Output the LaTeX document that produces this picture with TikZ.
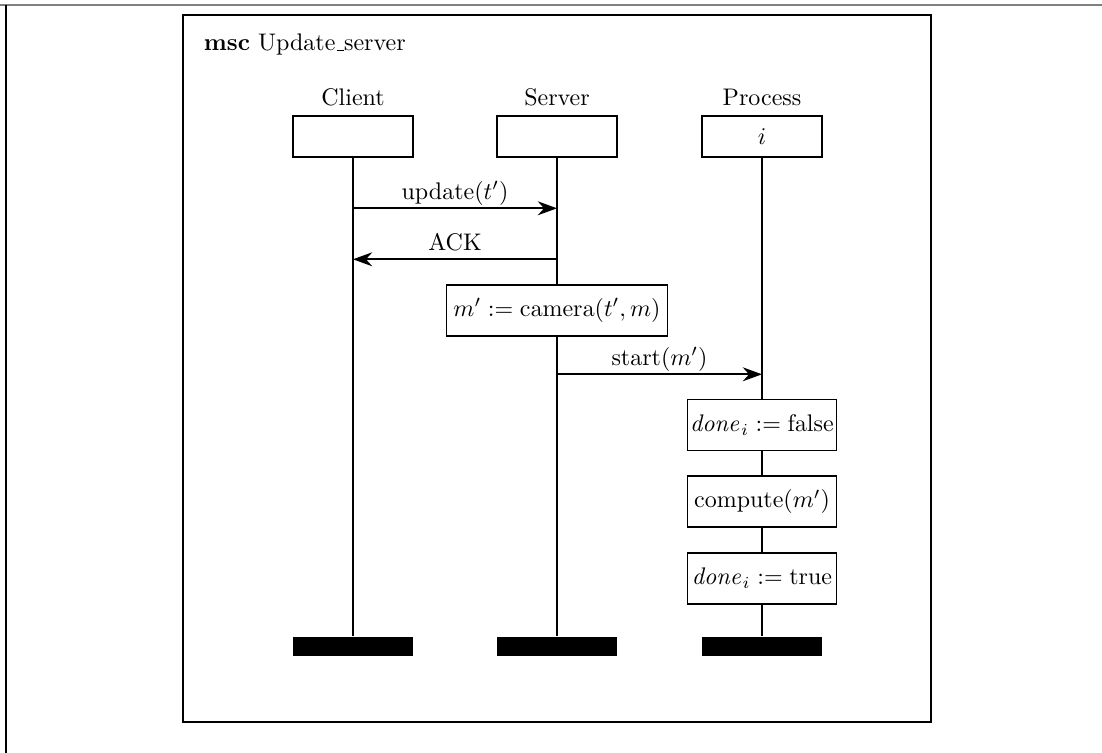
\documentclass[tikz,border=0pt]{standalone}
\usetikzlibrary{arrows.meta}
\begin{document}
\begin{tikzpicture}[x=0.416667pt,y=-0.416667pt, line width=0.8pt,
  headbox/.style={draw, minimum width=50pt, minimum height=17.1pt, inner sep=0pt},
  actbox/.style={draw, fill=white, minimum width=62.1pt, minimum height=21.25pt, inner sep=0pt},
  endbar/.style={fill=black, minimum width=50.4pt, minimum height=7.9pt, inner sep=0pt},
  msg/.style={-{Stealth[length=8pt,width=5.8pt,inset=2.6pt]}},
  lbl/.style={midway, anchor=base, yshift=3.7pt, inner sep=0pt},
  inst/.style={anchor=base, inner sep=0pt}]
\useasboundingbox (0,0) rectangle (1102,753);
% outer edge lines
\draw[line width=0.8pt, black!50] (0,5) -- (1102,5);
\draw[line width=0.45pt] (6,5) -- (6,753);
% frame
\draw (183,15) rectangle (931,722);
\node[anchor=base west, inner sep=0pt] (title) at (203,51) {\textbf{msc} Update\kern.06em\rule{0.3em}{0.5pt}server};
% instance labels
\node[inst] (cl) at (353,106) {Client};
\node[inst] (sl) at (557,106) {Server};
\node[inst] (pl) at (762,106) {Process};
% head boxes
\node[headbox] (ch) at (353,136.7) {};
\node[headbox] (sh) at (557,136.7) {};
\node[headbox] (ph) at (762,136.7) {$i$};
% end bars
\node[endbar] (ce) at (353,646.3) {};
\node[endbar] (se) at (557,646.3) {};
\node[endbar] (pe) at (762,646.3) {};
% actions
\node[actbox, minimum width=92.1pt] (cam) at (557,310.3) {$m' := \mathrm{camera}(t', m)$};
\node[actbox] (a1) at (762,425) {$\mathit{done}_i := \mathrm{false}$};
\node[actbox] (a2) at (762,501.7) {compute$(m')$};
\node[actbox] (a3) at (762,578.3) {$\mathit{done}_i := \mathrm{true}$};
% lifelines
\draw (ch.south) -- (ce.north);
\draw (sh.south) -- (cam.north);
\draw (cam.south) -- (se.north);
\draw (ph.south) -- (a1.north);
\draw (a1.south) -- (a2.north);
\draw (a2.south) -- (a3.north);
\draw (a3.south) -- (pe.north);
% message points
\coordinate (m1a) at (353,208.3);
\coordinate (m1b) at (557,208.3);
\coordinate (m2a) at (557,259.3);
\coordinate (m2b) at (353,259.3);
\coordinate (m3a) at (557,374.3);
\coordinate (m3b) at (762,374.3);
\draw[msg] (m1a) -- node[lbl] {update$(t')$} (m1b);
\draw[msg] (m2a) -- node[lbl] {ACK} (m2b);
\draw[msg] (m3a) -- node[lbl] {start$(m')$} (m3b);
\end{tikzpicture}
\end{document}
